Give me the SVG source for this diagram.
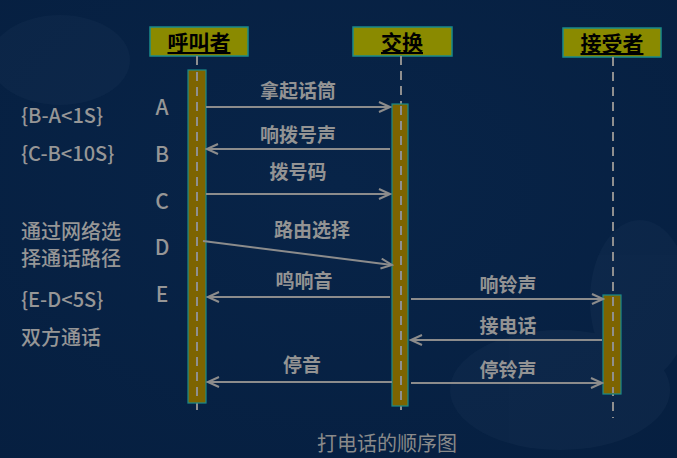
<svg xmlns="http://www.w3.org/2000/svg" width="677" height="458" viewBox="0 0 677 458">
<defs>
<radialGradient id="bg" cx="0.5" cy="0.4" r="0.8">
<stop offset="0" stop-color="#082448"/>
<stop offset="1" stop-color="#061f40"/>
</radialGradient>
<marker id="ah" markerWidth="14" markerHeight="12" refX="12" refY="6" orient="auto" markerUnits="userSpaceOnUse">
<path d="M1,1 L12,6 L1,11" fill="none" stroke="#8c8c8c" stroke-width="2"/>
</marker>
<style>
.hdr{fill:#8a8a00;stroke:#1a8a8a;stroke-width:1.5}
.htx{font-family:"Noto Sans CJK SC",sans-serif;font-size:21px;font-weight:bold;fill:#000;text-anchor:middle;text-decoration:underline}
.life{stroke:#8f8f8f;stroke-width:2;stroke-dasharray:9,6;fill:none}
.act{fill:#7d6400;stroke:#1a8a8a;stroke-width:1.2}
.msg{stroke:#8c8c8c;stroke-width:2;fill:none;marker-end:url(#ah)}
.lbl{font-family:"Noto Sans CJK SC",sans-serif;font-size:19px;font-weight:bold;fill:#939393;text-anchor:middle}
.side{font-family:"Noto Sans CJK SC",sans-serif;font-size:20px;font-weight:500;fill:#969696}
.let{font-family:"Noto Sans CJK SC",sans-serif;font-size:21px;font-weight:500;fill:#969696;text-anchor:middle}
</style>
</defs>
<rect width="677" height="458" fill="url(#bg)"/>
<g opacity="0.04" fill="#9fb8d0">
<ellipse cx="60" cy="60" rx="70" ry="45"/>
<ellipse cx="560" cy="390" rx="110" ry="60"/>
<ellipse cx="640" cy="300" rx="50" ry="80"/>
</g>
<g id="caller">
<rect class="hdr" x="150" y="27" width="98" height="29"/>
<text class="htx" x="199" y="50">呼叫者</text>
<line class="life" x1="197" y1="56" x2="197" y2="414"/>
<rect class="act" x="188" y="70" width="18" height="333"/>
<line class="life" x1="197" y1="72" x2="197" y2="402"/>
</g>
<g id="switch">
<rect class="hdr" x="353" y="27" width="99" height="29"/>
<text class="htx" x="402" y="50">交换</text>
<line class="life" x1="401" y1="56" x2="401" y2="412"/>
<rect class="act" x="392" y="104" width="16" height="302"/>
<line class="life" x1="401" y1="106" x2="401" y2="405"/>
</g>
<g id="receiver">
<rect class="hdr" x="563" y="28" width="98" height="29"/>
<text class="htx" x="612" y="51">接受者</text>
<line class="life" x1="613" y1="57" x2="613" y2="418"/>
<rect class="act" x="603" y="295" width="18" height="99"/>
<line class="life" x1="613" y1="297" x2="613" y2="393"/>
</g>
<g id="connectors">
<line class="msg" x1="206" y1="107" x2="390" y2="107"/>
<line class="msg" x1="390" y1="149" x2="207" y2="149"/>
<line class="msg" x1="206" y1="194" x2="390" y2="194"/>
<line class="msg" x1="203" y1="241" x2="392" y2="265"/>
<line class="msg" x1="390" y1="297" x2="208" y2="297"/>
<line class="msg" x1="392" y1="382" x2="208" y2="382"/>
<line class="msg" x1="411" y1="299" x2="603" y2="299"/>
<line class="msg" x1="602" y1="340" x2="411" y2="340"/>
<line class="msg" x1="411" y1="383" x2="602" y2="383"/>
</g>
<g id="labels">
<text class="lbl" x="298" y="98">拿起话筒</text>
<text class="lbl" x="298" y="142">响拨号声</text>
<text class="lbl" x="298" y="179">拨号码</text>
<text class="lbl" x="312" y="237">路由选择</text>
<text class="lbl" x="304" y="288">鸣响音</text>
<text class="lbl" x="302" y="372">停音</text>
<text class="lbl" x="508" y="292">响铃声</text>
<text class="lbl" x="508" y="333">接电话</text>
<text class="lbl" x="508" y="377">停铃声</text>
</g>
<g id="side">
<text class="side" x="21" y="123">{B-A&lt;1S}</text>
<text class="side" x="21" y="161">{C-B&lt;10S}</text>
<text class="side" x="21" y="239">通过网络选</text>
<text class="side" x="21" y="266">择通话路径</text>
<text class="side" x="21" y="307">{E-D&lt;5S}</text>
<text class="side" x="21" y="345">双方通话</text>
<text class="let" x="162" y="115">A</text>
<text class="let" x="162" y="162">B</text>
<text class="let" x="162" y="209">C</text>
<text class="let" x="162" y="255">D</text>
<text class="let" x="162" y="302">E</text>
</g>
<text x="387" y="451" font-family="Noto Sans CJK SC,sans-serif" font-size="20" fill="#8a8a8a" text-anchor="middle">打电话的顺序图</text>
</svg>
